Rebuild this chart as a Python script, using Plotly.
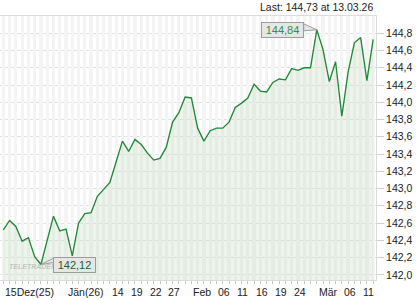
import plotly.graph_objects as go

# ---------------- data ----------------
dates = [
    "2025-12-15", "2025-12-16", "2025-12-17", "2025-12-18", "2025-12-19",
    "2025-12-22", "2025-12-23", "2025-12-29", "2025-12-30", "2025-12-31",
    "2026-01-05", "2026-01-06", "2026-01-07", "2026-01-08", "2026-01-09",
    "2026-01-12", "2026-01-13", "2026-01-14", "2026-01-15", "2026-01-16",
    "2026-01-19", "2026-01-20", "2026-01-21", "2026-01-22", "2026-01-23",
    "2026-01-26", "2026-01-27", "2026-01-28", "2026-01-29", "2026-01-30",
    "2026-02-02", "2026-02-03", "2026-02-04", "2026-02-05", "2026-02-06",
    "2026-02-09", "2026-02-10", "2026-02-11", "2026-02-12", "2026-02-13",
    "2026-02-16", "2026-02-17", "2026-02-18", "2026-02-19", "2026-02-20",
    "2026-02-23", "2026-02-24", "2026-02-25", "2026-02-26", "2026-02-27",
    "2026-03-02", "2026-03-03", "2026-03-04", "2026-03-05", "2026-03-06",
    "2026-03-09", "2026-03-10", "2026-03-11", "2026-03-12", "2026-03-13",
]
values = [
    142.52, 142.63, 142.56, 142.39, 142.43, 142.21, 142.12, 142.40, 142.68, 142.51,
    142.53, 142.22, 142.60, 142.71, 142.72, 142.91, 142.99, 143.07, 143.31, 143.55,
    143.43, 143.57, 143.51, 143.41, 143.33, 143.35, 143.48, 143.77, 143.88, 144.06,
    144.05, 143.70, 143.55, 143.67, 143.70, 143.70, 143.77, 143.94, 143.99, 144.05,
    144.21, 144.13, 144.12, 144.23, 144.27, 144.26, 144.39, 144.37, 144.40, 144.40,
    144.84, 144.61, 144.24, 144.47, 143.84, 144.35, 144.69, 144.75, 144.25, 144.73,
]
tick_dates = ["2025-12-15", "2026-01-05", "2026-01-14", "2026-01-19", "2026-01-22",
              "2026-01-27", "2026-02-02", "2026-02-06", "2026-02-11", "2026-02-16",
              "2026-02-19", "2026-02-24", "2026-03-02", "2026-03-06", "2026-03-11"]
tick_labels = ["15Dez(25)", "Jän(26)", "14", "19", "22", "27", "Feb", "06", "11",
               "16", "19", "24", "Mär", "06", "11"]
y_ticks = [142.0, 142.2, 142.4, 142.6, 142.8, 143.0, 143.2, 143.4, 143.6, 143.8,
           144.0, 144.2, 144.4, 144.6, 144.8]
y_tick_labels = [f"{v:.1f}".replace(".", ",") for v in y_ticks]
max_label = "144,84"
min_label = "142,12"
last_text = "Last: 144,73 at 13.03.26"
watermark = "TELETRADER"

Y_MIN, Y_MAX = 141.94, 145.0
FONT = "Liberation Sans, Arial, sans-serif"

fig = go.Figure()

# background day stripes
fig.add_trace(go.Bar(
    x=dates, y=[Y_MAX - Y_MIN] * len(dates), base=Y_MIN, width=0.52,
    marker=dict(color="#f4f4f4", line=dict(width=0)),
    hoverinfo="skip", showlegend=False,
))

# price line with area fill
fig.add_trace(go.Scatter(
    x=dates, y=values, mode="lines",
    line=dict(color="#23893a", width=1.35),
    fill="tozeroy", fillcolor="rgba(195,220,190,0.30)",
    hoverinfo="skip", showlegend=False,
))

imax = values.index(max(values))
imin = values.index(min(values))

annotations = []
shapes = []

# watermark (faint)
annotations.append(dict(
    x=0.018, y=0.05, xref="paper", yref="paper", xanchor="left", yanchor="middle",
    text=f"<b><i>{watermark}</i></b>", showarrow=False,
    font=dict(family=FONT, size=7, color="rgba(185,185,185,0.8)"),
))

# max label box
annotations.append(dict(
    x=dates[imax], y=values[imax], xref="x", yref="y",
    text=max_label, showarrow=False, xanchor="right", yanchor="middle",
    xshift=-12.5, yshift=0, width=39, height=12,
    font=dict(family=FONT, size=11, color="#2f9240"),
    bgcolor="#e6e6e6", bordercolor="#9c9c9c", borderwidth=1, borderpad=1,
))
shapes.append(dict(
    type="path", xref="x", yref="y", xsizemode="pixel", ysizemode="pixel",
    xanchor=imax, yanchor=values[imax],
    path="M -13,6 L 0,0 L -13,-1 Z",
    fillcolor="#e6e6e6", line=dict(color="#9c9c9c", width=1),
))
# min label box
annotations.append(dict(
    x=dates[imin], y=values[imin], xref="x", yref="y",
    text=min_label, showarrow=False, xanchor="left", yanchor="middle",
    xshift=12.5, yshift=-0.5, width=39, height=12,
    font=dict(family=FONT, size=11, color="#1f5f30"),
    bgcolor="#e6e6e6", bordercolor="#9c9c9c", borderwidth=1, borderpad=1,
))
shapes.append(dict(
    type="path", xref="x", yref="y", xsizemode="pixel", ysizemode="pixel",
    xanchor=imin, yanchor=values[imin],
    path="M 13,6.5 L 0,0 L 13,2 Z",
    fillcolor="#e6e6e6", line=dict(color="#9c9c9c", width=1),
))

# x labels (left-aligned at their day)
for d, lab in zip(tick_dates, tick_labels):
    annotations.append(dict(
        x=d, y=0, xref="x", yref="paper", yshift=-12,
        text=lab, showarrow=False, xanchor="left", yanchor="middle",
        font=dict(family=FONT, size=10.5, color="#222222"),
    ))

# last value text
annotations.append(dict(
    x=1, y=1, xref="paper", yref="paper", xanchor="right", yanchor="middle",
    yshift=9, xshift=-1,
    text=last_text, showarrow=False,
    font=dict(family=FONT, size=10.5, color="#222222"),
))

fig.update_layout(
    width=420, height=300,
    margin=dict(l=0, r=44, t=16, b=20, pad=0),
    paper_bgcolor="white", plot_bgcolor="white",
    bargap=0, barmode="overlay",
    annotations=annotations, shapes=shapes,
    showlegend=False,
)
fig.update_xaxes(
    type="category", range=[-0.53, len(dates) - 1 + 0.45],
    showgrid=False, zeroline=False,
    showline=True, mirror=True, linecolor="#dcdcdc", linewidth=1,
    ticks="outside", ticklen=3, tickcolor="#c4c4c4", tickwidth=1,
    tickmode="linear", dtick=1, showticklabels=False,
)
fig.update_yaxes(
    range=[Y_MIN, Y_MAX], side="right",
    tickmode="array", tickvals=y_ticks, ticktext=y_tick_labels,
    showgrid=True, gridcolor="#e2e2e2", gridwidth=1, zeroline=False,
    showline=True, mirror=True, linecolor="#dcdcdc", linewidth=1,
    ticks="outside", ticklen=7, tickcolor="#d0d0d0",
    tickfont=dict(family=FONT, size=10.5, color="#222222"),
)

fig.write_html("out.html")
